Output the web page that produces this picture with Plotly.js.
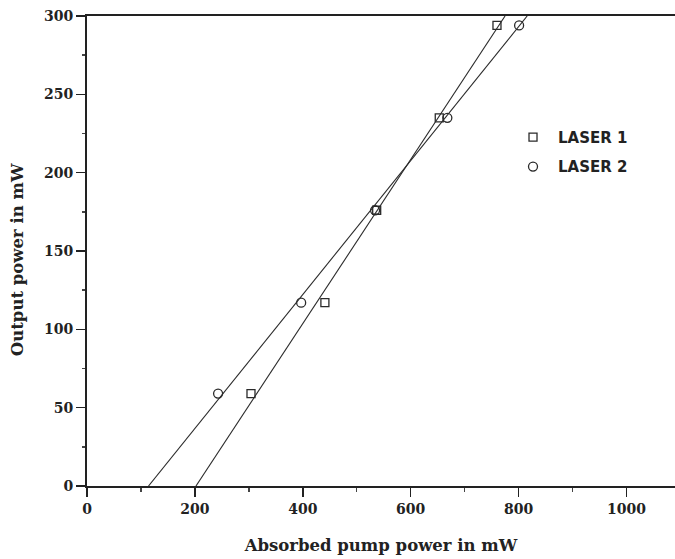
<!DOCTYPE html>
<html>
<head>
<meta charset="utf-8">
<script src="https://cdn.plot.ly/plotly-3.0.1.min.js"></script>
<style>html,body{margin:0;padding:0;background:#fff;}#chart{width:675px;height:559px;}</style>
</head>
<body>
<div id="chart"></div>
<script>
// Measured data (absorbed pump power in mW, output power in mW)
const laser1X = [304, 441, 537, 653, 760];
const laser1Y = [59, 117, 176, 235, 294];
const laser2X = [243, 397, 534, 668, 801];
const laser2Y = [59, 117, 176, 235, 294];
// Linear-fit lines (endpoints)
const fit1X = [202, 775];
const fit1Y = [0, 300];
const fit2X = [114, 816];
const fit2Y = [0, 300];
const seriesNames = ["LASER 1", "LASER 2"];
const xTicks = [0, 200, 400, 600, 800, 1000];
const yTicks = [0, 50, 100, 150, 200, 250, 300];
const xTitle = "Absorbed pump power in mW";
const yTitle = "Output power in mW";

const ink = "#2a2a2a";
const traces = [
  {x: fit1X, y: fit1Y, mode: "lines", line: {color: ink, width: 1.1}, showlegend: false, hoverinfo: "skip"},
  {x: fit2X, y: fit2Y, mode: "lines", line: {color: ink, width: 1.1}, showlegend: false, hoverinfo: "skip"},
  {x: laser1X, y: laser1Y, mode: "markers", name: seriesNames[0], legendgroup: "a",
   marker: {symbol: "square-open", size: 8, color: ink, line: {width: 1.3}}},
  {x: laser2X, y: laser2Y, mode: "markers", name: seriesNames[1], legendgroup: "b",
   marker: {symbol: "circle-open", size: 9, color: ink, line: {width: 1.3}}}
];

const tickFont = {family: "DejaVu Serif", size: 14, color: "#222", weight: "bold"};
const titleFont = {family: "DejaVu Serif", size: 16.5, color: "#222", weight: "bold"};

const layout = {
  width: 675, height: 559,
  margin: {l: 87, r: 0, t: 16, b: 73},
  paper_bgcolor: "#fff", plot_bgcolor: "#fff",
  showlegend: true,
  legend: {x: 0.716, y: 0.777, xanchor: "left", yanchor: "top",
           font: {family: "DejaVu Sans", size: 15, color: "#222", weight: "bold"},
           bgcolor: "rgba(0,0,0,0)", traceorder: "grouped", tracegroupgap: 7, itemwidth: 40},
  xaxis: {
    range: [0, 1090], tickvals: xTicks, ticktext: xTicks.map(String),
    showgrid: false, zeroline: false,
    showline: true, linecolor: "#222", linewidth: 2, mirror: true,
    ticks: "outside", ticklen: 9, tickwidth: 1.5, tickcolor: "#222",
    minor: {dtick: 100, ticks: "outside", ticklen: 4, tickwidth: 1.5, tickcolor: "#444", showgrid: false},
    tickfont: tickFont,
    title: {text: xTitle, font: titleFont, standoff: 24}
  },
  yaxis: {
    range: [0, 300], tickvals: yTicks, ticktext: yTicks.map(String),
    showgrid: false, zeroline: false,
    showline: true, linecolor: "#222", linewidth: 2, mirror: false,
    ticks: "outside", ticklen: 9, tickwidth: 1.5, tickcolor: "#222",
    minor: {dtick: 25, ticks: "outside", ticklen: 3, tickwidth: 1.5, tickcolor: "#444", showgrid: false},
    tickfont: tickFont
  },
  annotations: [{
    text: yTitle, textangle: -90, showarrow: false,
    xref: "paper", yref: "paper", x: -0.117, y: 0.481,
    xanchor: "center", yanchor: "middle", font: titleFont
  }]
};

Plotly.newPlot("chart", traces, layout, {staticPlot: true, displayModeBar: false});
</script>
</body>
</html>
